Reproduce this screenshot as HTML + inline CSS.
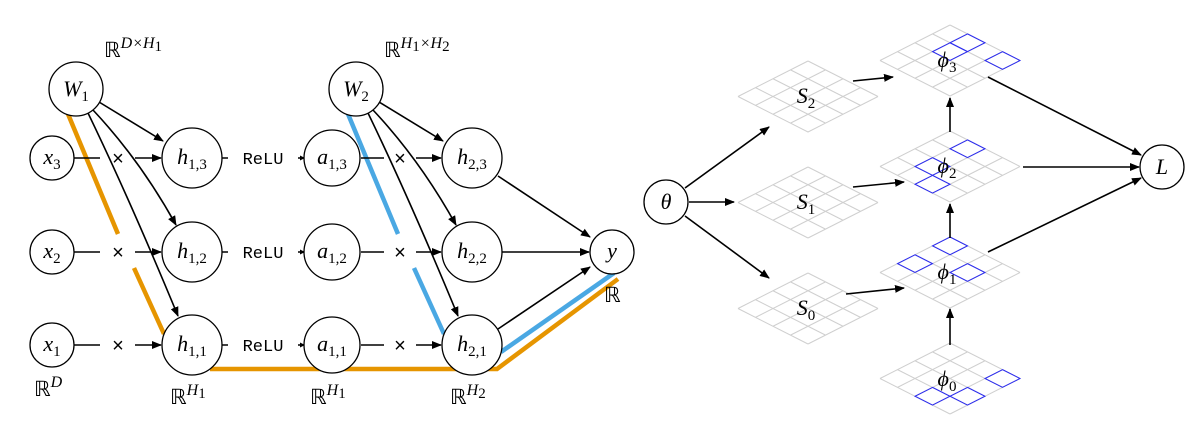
<!DOCTYPE html>
<html><head><meta charset="utf-8"><style>
html,body{margin:0;padding:0;background:#fff;}
svg{display:block;}
.m{font-family:"Liberation Serif",serif;font-style:italic;font-size:22px;}
.s{font-size:15px;font-style:normal;}
.si{font-size:16px;}
.r{font-family:"Liberation Serif",serif;font-size:21px;}
.relu{font-family:"Liberation Mono",monospace;font-size:17px;}
.x{font-family:"Liberation Sans",sans-serif;font-size:20px;}
</style></head><body>
<svg width="1202" height="430" viewBox="0 0 1202 430" xmlns="http://www.w3.org/2000/svg">
<defs>
<marker id="ar" markerWidth="10" markerHeight="8" refX="9" refY="4" orient="auto" markerUnits="userSpaceOnUse"><path d="M0,0 L10,4 L0,8 Z" fill="#000"/></marker>
<marker id="sm" markerWidth="5" markerHeight="5" refX="4" refY="2.5" orient="auto" markerUnits="userSpaceOnUse"><path d="M0,0 L5,2.5 L0,5 Z" fill="#000"/></marker>
<path id="g" d="M0 0H4M0 1H4M0 2H4M0 3H4M0 4H4M0 0V4M1 0V4M2 0V4M3 0V4M4 0V4" fill="none" stroke="#cfcfcf" stroke-width="1" vector-effect="non-scaling-stroke"/>
</defs>

<g fill="none" stroke-width="4.5">
<path d="M68 114 L118 234" stroke="#e69500"/>
<path d="M134 268 L164 334" stroke="#e69500"/>
<path d="M210 369 L497 369 L618 279" stroke="#e69500"/>
<path d="M348 114 L398 234" stroke="#4aa8e3"/>
<path d="M414 268 L444 334" stroke="#4aa8e3"/>
<path d="M501 352 L614 273" stroke="#4aa8e3"/>
</g>

<g fill="none" stroke="#000" stroke-width="1.6">
<path d="M99 102 L163 141" marker-end="url(#ar)"/>
<path d="M93 110 Q140 160 176 225" marker-end="url(#ar)"/>
<path d="M88 113 Q130 200 178 316" marker-end="url(#ar)"/>
<path d="M379 102 L443 141" marker-end="url(#ar)"/>
<path d="M373 110 Q420 160 456 225" marker-end="url(#ar)"/>
<path d="M368 113 Q410 200 458 316" marker-end="url(#ar)"/>
<path d="M74 158 H100 M135 158 H161" marker-end="url(#ar)"/>
<path d="M74 252 H100 M135 252 H161" marker-end="url(#ar)"/>
<path d="M74 345 H100 M135 345 H161" marker-end="url(#ar)"/>
<path d="M361 158 H384 M416 158 H441" marker-end="url(#ar)"/>
<path d="M361 252 H384 M416 252 H441" marker-end="url(#ar)"/>
<path d="M361 345 H384 M416 345 H441" marker-end="url(#ar)"/>
<path d="M222 158 H228 M298 158 H304" marker-end="url(#sm)"/>
<path d="M222 252 H228 M298 252 H304" marker-end="url(#sm)"/>
<path d="M222 345 H228 M298 345 H304" marker-end="url(#sm)"/>
<path d="M498 176 L590 237" marker-end="url(#ar)"/>
<path d="M502 252 L589 252" marker-end="url(#ar)"/>
<path d="M498 329 L590 267" marker-end="url(#ar)"/>
</g>
<g class="x" text-anchor="middle">
<text x="118" y="165">×</text><text x="118" y="259">×</text><text x="118" y="352">×</text>
<text x="400" y="165">×</text><text x="400" y="259">×</text><text x="400" y="352">×</text>
</g>
<g class="relu" text-anchor="middle">
<text x="263" y="164">ReLU</text><text x="263" y="258">ReLU</text><text x="263" y="351">ReLU</text>
</g>

<g fill="#fff" stroke="#000" stroke-width="1.3">
<circle cx="76" cy="89" r="27"/><circle cx="356" cy="89" r="27"/>
<circle cx="52" cy="158" r="22"/><circle cx="52" cy="252" r="22"/><circle cx="52" cy="345" r="22"/>
<circle cx="192" cy="158" r="30"/><circle cx="192" cy="252" r="30"/><circle cx="192" cy="345" r="30"/>
<circle cx="332" cy="158" r="28"/><circle cx="332" cy="252" r="28"/><circle cx="332" cy="345" r="28"/>
<circle cx="472" cy="158" r="30"/><circle cx="472" cy="252" r="30"/><circle cx="472" cy="345" r="30"/>
<circle cx="612" cy="252" r="22"/>
<circle cx="666" cy="202" r="22"/><circle cx="1162" cy="167" r="22"/>
</g>
<g class="m" text-anchor="middle">
<text x="76" y="96">W<tspan class="s" dy="5">1</tspan></text>
<text x="356" y="96">W<tspan class="s" dy="5">2</tspan></text>
<text x="52" y="164">x<tspan class="s" dy="5">3</tspan></text>
<text x="52" y="258">x<tspan class="s" dy="5">2</tspan></text>
<text x="52" y="351">x<tspan class="s" dy="5">1</tspan></text>
<text x="192" y="164">h<tspan class="s" dy="5">1,3</tspan></text>
<text x="192" y="258">h<tspan class="s" dy="5">1,2</tspan></text>
<text x="192" y="351">h<tspan class="s" dy="5">1,1</tspan></text>
<text x="332" y="164">a<tspan class="s" dy="5">1,3</tspan></text>
<text x="332" y="258">a<tspan class="s" dy="5">1,2</tspan></text>
<text x="332" y="351">a<tspan class="s" dy="5">1,1</tspan></text>
<text x="472" y="164">h<tspan class="s" dy="5">2,3</tspan></text>
<text x="472" y="258">h<tspan class="s" dy="5">2,2</tspan></text>
<text x="472" y="351">h<tspan class="s" dy="5">2,1</tspan></text>
<text x="612" y="258">y</text>
<text x="666" y="209">θ</text>
<text x="1162" y="174">L</text>
</g>
<g class="r">
<text x="104" y="57">ℝ<tspan class="si" font-style="italic" dy="-9">D×H</tspan><tspan class="s" font-size="12" dy="3">1</tspan></text>
<text x="384" y="57">ℝ<tspan class="si" font-style="italic" dy="-9">H</tspan><tspan class="s" font-size="12" dy="3">1</tspan><tspan class="si" font-style="italic" dy="-3">×H</tspan><tspan class="s" font-size="12" dy="3">2</tspan></text>
<text x="34" y="396">ℝ<tspan class="si" font-style="italic" dy="-9">D</tspan></text>
<text x="170" y="404">ℝ<tspan class="si" font-style="italic" dy="-9">H</tspan><tspan class="s" font-size="12" dy="3">1</tspan></text>
<text x="310" y="404">ℝ<tspan class="si" font-style="italic" dy="-9">H</tspan><tspan class="s" font-size="12" dy="3">1</tspan></text>
<text x="450" y="404">ℝ<tspan class="si" font-style="italic" dy="-9">H</tspan><tspan class="s" font-size="12" dy="3">2</tspan></text>
<text x="604" y="302">ℝ</text>
</g>

<g>
<use href="#g" transform="matrix(17.5,8.875,-17.5,8.875,808,61)"/>
<use href="#g" transform="matrix(17.5,8.875,-17.5,8.875,808,167)"/>
<use href="#g" transform="matrix(17.5,8.875,-17.5,8.875,808,273)"/>
<use href="#g" transform="matrix(17.5,8.875,-17.5,8.875,950,25)"/>
<use href="#g" transform="matrix(17.5,8.875,-17.5,8.875,950,131)"/>
<use href="#g" transform="matrix(17.5,8.875,-17.5,8.875,950,237)"/>
<use href="#g" transform="matrix(17.5,8.875,-17.5,8.875,950,343)"/>
</g>
<g fill="none" stroke="#2b2bf0" stroke-width="1" >
<g transform="matrix(17.5,8.875,-17.5,8.875,950,25)"><rect x="1" y="0" width="1" height="1" vector-effect="non-scaling-stroke"/><rect x="1" y="1" width="1" height="1" vector-effect="non-scaling-stroke"/><rect x="3" y="0" width="1" height="1" vector-effect="non-scaling-stroke"/></g>
<g transform="matrix(17.5,8.875,-17.5,8.875,950,131)"><rect x="1" y="0" width="1" height="1" vector-effect="non-scaling-stroke"/><rect x="1" y="2" width="1" height="1" vector-effect="non-scaling-stroke"/><rect x="2" y="3" width="1" height="1" vector-effect="non-scaling-stroke"/></g>
<g transform="matrix(17.5,8.875,-17.5,8.875,950,237)"><rect x="0" y="0" width="1" height="1" vector-effect="non-scaling-stroke"/><rect x="0" y="2" width="1" height="1" vector-effect="non-scaling-stroke"/><rect x="2" y="1" width="1" height="1" vector-effect="non-scaling-stroke"/></g>
<g transform="matrix(17.5,8.875,-17.5,8.875,950,343)"><rect x="3" y="0" width="1" height="1" vector-effect="non-scaling-stroke"/><rect x="2" y="3" width="1" height="1" vector-effect="non-scaling-stroke"/><rect x="3" y="2" width="1" height="1" vector-effect="non-scaling-stroke"/></g>
</g>
<g class="m" text-anchor="middle">
<text x="806" y="103">S<tspan class="s" dy="5">2</tspan></text>
<text x="806" y="209">S<tspan class="s" dy="5">1</tspan></text>
<text x="806" y="315">S<tspan class="s" dy="5">0</tspan></text>
<text x="947" y="67">ϕ<tspan class="s" dy="5">3</tspan></text>
<text x="947" y="173">ϕ<tspan class="s" dy="5">2</tspan></text>
<text x="947" y="279">ϕ<tspan class="s" dy="5">1</tspan></text>
<text x="947" y="386">ϕ<tspan class="s" dy="5">0</tspan></text>
</g>

<g fill="none" stroke="#000" stroke-width="1.6">
<path d="M685 188 L769 127" marker-end="url(#ar)"/>
<path d="M689 202 L734 202" marker-end="url(#ar)"/>
<path d="M685 216 L769 278" marker-end="url(#ar)"/>
<path d="M853 81 L893 77" marker-end="url(#ar)"/>
<path d="M853 187 L904 182" marker-end="url(#ar)"/>
<path d="M846 294 L904 288" marker-end="url(#ar)"/>
<path d="M950 345 L950 309" marker-end="url(#ar)"/>
<path d="M950 238 L950 204" marker-end="url(#ar)"/>
<path d="M950 132 L950 98" marker-end="url(#ar)"/>
<path d="M988 77 L1141 155" marker-end="url(#ar)"/>
<path d="M1023 167 L1139 167" marker-end="url(#ar)"/>
<path d="M988 252 L1141 178" marker-end="url(#ar)"/>
</g>
</svg>
</body></html>
